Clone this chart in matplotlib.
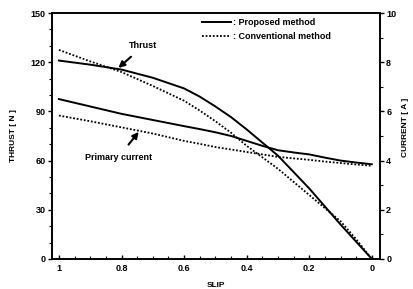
import matplotlib.pyplot as plt
from matplotlib.ticker import MultipleLocator, FixedLocator

# 1. Data
slip = [1.0, 0.9, 0.8, 0.7, 0.6, 0.55, 0.5, 0.45, 0.4, 0.35, 0.3,
        0.25, 0.2, 0.15, 0.1, 0.05, 0.0]

thrust_proposed = [121, 118.5, 115.5, 110.5, 104, 99, 93, 86.5, 79, 71, 63,
                   53, 43, 32, 21, 10.5, 0]
thrust_conventional = [127.5, 120.5, 114, 105.5, 96.5, 90.5, 84, 77, 69, 62, 55,
                       47, 39, 31, 23, 12, 0]

current_proposed = [6.5, 6.2, 5.9, 5.65, 5.4, 5.28, 5.15, 5.0, 4.8, 4.6, 4.42,
                    4.33, 4.25, 4.12, 4.0, 3.92, 3.85]
current_conventional = [5.83, 5.6, 5.35, 5.1, 4.8, 4.68, 4.55, 4.45, 4.35, 4.25, 4.15,
                        4.09, 4.03, 3.96, 3.9, 3.84, 3.79]

x_ticks = [1, 0.8, 0.6, 0.4, 0.2, 0]
x_tick_labels = ['1', '0.8', '0.6', '0.4', '0.2', '0']

# 2. Plotting
plt.rcParams['font.family'] = ['Liberation Sans', 'DejaVu Sans']
plt.rcParams['font.weight'] = 'bold'

fig = plt.figure(figsize=(4.13, 2.89), dpi=100)
ax = fig.add_axes([0.126, 0.104, 0.794, 0.851])
ax2 = ax.twinx()

ax.plot(slip, thrust_proposed, color='black', lw=1.4, label=': Proposed method')
ax.plot(slip, thrust_conventional, color='black', lw=1.3, ls=(0, (1, 1)),
        label=': Conventional method')
ax2.plot(slip, current_proposed, color='black', lw=1.4)
ax2.plot(slip, current_conventional, color='black', lw=1.3, ls=(0, (1, 1)))

# 3. Formatting
ax.set_xlim(1.022, -0.026)
ax.set_ylim(0, 150)
ax2.set_ylim(0, 10)

ax.xaxis.set_major_locator(FixedLocator(x_ticks))
ax.set_xticklabels(x_tick_labels)
ax.xaxis.set_minor_locator(MultipleLocator(0.05))
ax.yaxis.set_major_locator(MultipleLocator(30))
ax.yaxis.set_minor_locator(MultipleLocator(10))
ax2.yaxis.set_major_locator(MultipleLocator(2))
ax2.yaxis.set_minor_locator(MultipleLocator(1))

ax.tick_params(axis='x', direction='in', length=3, width=1, labelsize=6.5, pad=4)
ax.tick_params(axis='x', which='minor', direction='in', length=2, width=0.8)
ax.tick_params(axis='y', direction='out', length=3, width=1, labelsize=6.5, pad=1.5)
ax.tick_params(axis='y', which='minor', direction='out', length=2, width=0.8)
ax2.tick_params(axis='y', direction='out', length=3, width=1, labelsize=6.5, pad=1.5)
ax2.tick_params(axis='y', which='minor', direction='out', length=2, width=0.8)

for sp in list(ax.spines.values()) + list(ax2.spines.values()):
    sp.set_linewidth(1.2)

ax.set_xlabel('SLIP', fontsize=6, fontweight='bold', labelpad=6)
ax.set_ylabel('THRUST [ N ]', fontsize=6, fontweight='bold', labelpad=10)
# right axis label sits right at the figure edge, kept just inside it
fig.text(0.983, 0.56, 'CURRENT [ A ]', fontsize=6, fontweight='bold',
         rotation=90, ha='center', va='center')

ax.legend(loc='upper left', bbox_to_anchor=(0.44, 1.0), frameon=False,
          fontsize=6.5, handlelength=3.2, handletextpad=0.3, labelspacing=0.5,
          borderaxespad=0.2)

# Annotations
ax.annotate('Thrust', xy=(0.81, 116.5), xytext=(0.73, 130),
            fontsize=6.5, fontweight='bold', ha='center', va='center',
            arrowprops=dict(arrowstyle='-|>', color='black', lw=1.5,
                            shrinkA=4, shrinkB=0, mutation_scale=9))
ax.annotate('Primary current', xy=(0.745, 77.5), xytext=(0.81, 62),
            fontsize=6.5, fontweight='bold', ha='center', va='center',
            arrowprops=dict(arrowstyle='-|>', color='black', lw=1.5,
                            shrinkA=5, shrinkB=0, mutation_scale=9))

# 4. Save
fig.savefig('out.png', dpi=100)
